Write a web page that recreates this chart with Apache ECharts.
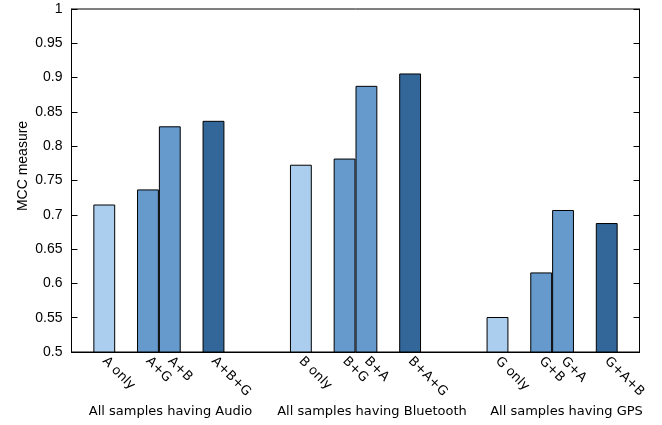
<!DOCTYPE html>
<html>
<head>
<meta charset="utf-8">
<script src="https://cdn.jsdelivr.net/npm/echarts@6/dist/echarts.min.js"></script>
<style>html,body{margin:0;padding:0;background:#fff;}#c{width:662px;height:425px;}</style>
</head>
<body>
<div id="c"></div>
<script>
const groupNames = ['All samples having Audio', 'All samples having Bluetooth', 'All samples having GPS'];
const audioLabels = ['A only', 'A+G', 'A+B', 'A+B+G'];
const bluetoothLabels = ['B only', 'B+G', 'B+A', 'B+A+G'];
const gpsLabels = ['G only', 'G+B', 'G+A', 'G+A+B'];
const audioValues = [0.715, 0.737, 0.829, 0.837];
const bluetoothValues = [0.773, 0.782, 0.888, 0.906];
const gpsValues = [0.551, 0.616, 0.707, 0.688];
const yTicks = [0.5, 0.55, 0.6, 0.65, 0.7, 0.75, 0.8, 0.85, 0.9, 0.95, 1];
const barColors = ['#abcdee', '#6699cc', '#6699cc', '#336699'];

// slot layout of each group: gap, single, gap, pair, gap, triple, gap, gap
const slotPattern = [-1, 0, -1, 1, 2, -1, 3, -1, -1];
const groupLabels = [audioLabels, bluetoothLabels, gpsLabels];
const groupValues = [audioValues, bluetoothValues, gpsValues];
const cats = [];
const data = [];
let gapCount = 0;
groupLabels.forEach((labels, g) => {
  slotPattern.forEach(p => {
    if (p < 0) {
      cats.push(' '.repeat(++gapCount));
      data.push('-');
    } else {
      cats.push(labels[p]);
      data.push({ value: groupValues[g][p], itemStyle: { color: barColors[p] } });
    }
  });
});
// drop the final trailing gap
cats.pop(); data.pop();

const chart = echarts.init(document.getElementById('c'));
const L = 71.5, R = 639.5, T = 9, B = 352;
chart.setOption({
  animation: false,
  grid: { left: L, right: 662 - R, top: T, bottom: 425 - B, show: true, borderColor: '#000', borderWidth: 1, backgroundColor: 'transparent' },
  xAxis: {
    type: 'category',
    data: cats,
    axisLine: { show: true, lineStyle: { color: '#000', width: 1 } },
    axisTick: { show: false },
    axisLabel: {
      interval: 0, rotate: -45, margin: 7,
      fontFamily: 'DejaVu Sans', fontSize: 13, color: '#000',
      formatter: v => v.trim()
    },
    splitLine: { show: false }
  },
  yAxis: [{
    type: 'value', min: 0.5, max: 1, interval: 0.05,
    axisLine: { show: true, lineStyle: { color: '#000' } },
    axisTick: { show: true, inside: true, length: 6, lineStyle: { color: '#000' } },
    axisLabel: { margin: 9, fontFamily: 'Liberation Sans', fontSize: 14, color: '#000',
      formatter: v => String(Math.round(v * 100) / 100) },
    splitLine: { show: false }
  }, {
    type: 'value', min: 0.5, max: 1, interval: 0.05, position: 'right',
    axisLine: { show: true, lineStyle: { color: '#000' } },
    axisTick: { show: true, inside: true, length: 6, lineStyle: { color: '#000' } },
    axisLabel: { show: false },
    splitLine: { show: false }
  }],
  series: [{
    type: 'bar',
    data: data,
    barWidth: '100%',
    barGap: '0%',
    itemStyle: { borderColor: '#000', borderWidth: 1 }
  }],
  graphic: [
    { type: 'text', left: 16, top: 115, rotation: Math.PI / 2,
      style: { text: 'MCC measure', fill: '#000', font: '14px "Liberation Sans"', textAlign: 'center', textVerticalAlign: 'middle' },
      x: 23, y: 166, left: null, top: null, originX: 0, originY: 0 },
    { type: 'text', x: 170.5, y: 412, style: { text: groupNames[0], fill: '#000', font: '13px "DejaVu Sans"', textAlign: 'center', textVerticalAlign: 'middle' } },
    { type: 'text', x: 372, y: 412, style: { text: groupNames[1], fill: '#000', font: '13px "DejaVu Sans"', textAlign: 'center', textVerticalAlign: 'middle' } },
    { type: 'text', x: 566.5, y: 412, style: { text: groupNames[2], fill: '#000', font: '13px "DejaVu Sans"', textAlign: 'center', textVerticalAlign: 'middle' } }
  ]
});
</script>
</body>
</html>
